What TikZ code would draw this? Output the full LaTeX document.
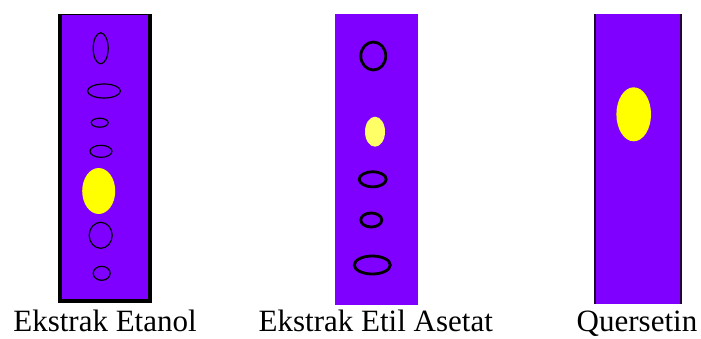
\documentclass[tikz,border=0pt]{standalone}
\usepackage{fontspec}
\setmainfont{Liberation Serif}
\newfontfamily\tnrfont{Liberation Serif}
\definecolor{plate}{RGB}{127,0,255}
\definecolor{platedark}{RGB}{30,0,50}
\definecolor{spotyellow}{RGB}{255,255,0}
\definecolor{spotlight}{RGB}{255,255,102}
\begin{document}
\begin{tikzpicture}[x=1pt,y=-1pt,
  thinspot/.style={draw=black,line width=1.2pt},
  thickspot/.style={draw=black,line width=2.8pt},
  lab/.style={anchor=base,inner sep=0pt,font=\tnrfont\fontsize{31}{31}\selectfont}]
\useasboundingbox[fill=white] (0,0) rectangle (701,338);
% plate 1
\fill[black] (58,14) rectangle (152,303);
\fill[plate] (62,15) rectangle (147.5,299);
\draw[thinspot] (100.7,48.3) ellipse [x radius=7.5pt, y radius=15.5pt];
\draw[thinspot] (104,91) ellipse [x radius=16.5pt, y radius=7pt];
\draw[thinspot] (99.7,122.7) ellipse [x radius=8.5pt, y radius=4.5pt];
\draw[thinspot] (101,151.3) ellipse [x radius=11pt, y radius=6pt];
\fill[spotyellow] (98.7,191) ellipse [x radius=16.5pt, y radius=23pt];
\draw[thinspot] (100.7,235.3) ellipse [x radius=11.5pt, y radius=13pt];
\draw[thinspot] (101.7,273.3) ellipse [x radius=8.5pt, y radius=7pt];
% plate 2
\fill[plate] (335,14) rectangle (417.7,304.5);
\draw[thickspot] (373.3,56) ellipse [x radius=12.5pt, y radius=14pt];
\fill[spotlight] (375,131.7) ellipse [x radius=10pt, y radius=15pt];
\draw[thickspot] (372.7,179.3) ellipse [x radius=13.5pt, y radius=7.5pt];
\draw[thickspot] (371.3,220) ellipse [x radius=10.5pt, y radius=7pt];
\draw[thickspot] (372.3,265) ellipse [x radius=18pt, y radius=9pt];
% plate 3
\fill[platedark] (593.5,14) rectangle (682,304);
\fill[plate] (595.5,14) rectangle (680,304);
\fill[spotyellow] (633.7,114.3) ellipse [x radius=17.3pt, y radius=27pt];
% labels
\node[lab] (l1) at (105,331) {Ekstrak Etanol};
\node[lab] (l2) at (375.8,331) {Ekstrak Etil Asetat};
\node[lab] (l3) at (637,331) {Quersetin};
\end{tikzpicture}
\end{document}
